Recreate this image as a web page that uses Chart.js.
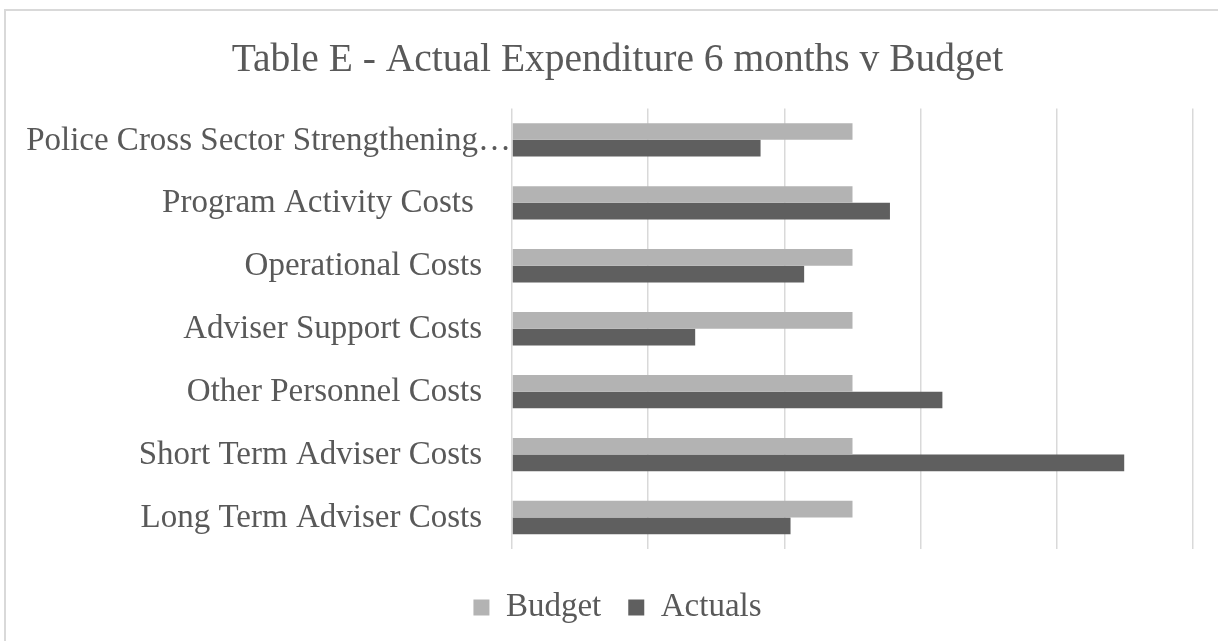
<!DOCTYPE html>
<html>
<head>
<meta charset="utf-8">
<script src="https://cdn.jsdelivr.net/npm/chart.js@4.4.0/dist/chart.umd.min.js"></script>
<style>
  html, body { margin: 0; padding: 0; background: #fff; }
  #wrap { position: relative; width: 1218px; height: 641px; overflow: hidden; }
  #frame { position: absolute; left: 4px; top: 9px; width: 1300px; height: 700px; border-left: 2px solid #d9d9d9; border-top: 2px solid #d9d9d9; }
  #chart { position: absolute; left: 0; top: 0; }
</style>
</head>
<body>
<div id="wrap">
  <div id="frame"></div>
  <canvas id="chart" width="1218" height="641"></canvas>
</div>
<script>
const categories = [
  'Police Cross Sector Strengthening…',
  'Program Activity Costs ',
  'Operational Costs',
  'Adviser Support Costs',
  'Other Personnel Costs',
  'Short Term Adviser Costs',
  'Long Term Adviser Costs'
];
const budget = [0.5, 0.5, 0.5, 0.5, 0.5, 0.5, 0.5];
const actuals = [0.365, 0.555, 0.429, 0.269, 0.632, 0.899, 0.409];

const FONT = "'Liberation Serif', 'Times New Roman', serif";
const TEXT = '#595959';

// draws the category labels right-aligned next to the axis
const yLabels = {
  id: 'yLabels',
  afterDraw(chart) {
    const c = chart.ctx;
    const y = chart.scales.y;
    const left = chart.chartArea.left;
    c.save();
    c.font = '33px ' + FONT;
    c.fillStyle = TEXT;
    c.textAlign = 'right';
    c.textBaseline = 'middle';
    categories.forEach((lab, i) => {
      const x = lab.endsWith('…') ? left - 1 : left - 30;
      c.fillText(lab, x, y.getPixelForValue(i) + 1);
    });
    c.restore();
  }
};

new Chart(document.getElementById('chart').getContext('2d'), {
  type: 'bar',
  data: {
    labels: categories,
    datasets: [
      { label: 'Budget', data: budget, backgroundColor: '#b3b3b3' },
      { label: 'Actuals', data: actuals, backgroundColor: '#5f5f5f' }
    ]
  },
  options: {
    indexAxis: 'y',
    responsive: false,
    animation: false,
    layout: { padding: { left: 42, right: 25, top: 20, bottom: 7 } },
    datasets: { bar: { categoryPercentage: 0.53, barPercentage: 1.0 } },
    plugins: {
      title: {
        display: true,
        text: 'Table E - Actual Expenditure 6 months v Budget',
        color: TEXT,
        font: { family: FONT, size: 39.5, weight: 'normal' },
        padding: { top: 17, bottom: 24 }
      },
      legend: {
        position: 'bottom',
        labels: {
          color: TEXT,
          font: { family: FONT, size: 33 },
          boxWidth: 16,
          boxHeight: 16,
          padding: 27
        }
      },
      tooltip: { enabled: false }
    },
    scales: {
      x: {
        min: 0,
        max: 1,
        ticks: { display: false, stepSize: 0.2 },
        grid: { color: '#d9d9d9', lineWidth: 1.5, drawTicks: false },
        border: { display: false },
        afterFit: (s) => { s.height = 15; }
      },
      y: {
        ticks: { display: false },
        grid: { display: false },
        border: { display: false },
        afterFit: (s) => { s.width = 470; }
      }
    }
  },
  plugins: [yLabels]
});
</script>
</body>
</html>
